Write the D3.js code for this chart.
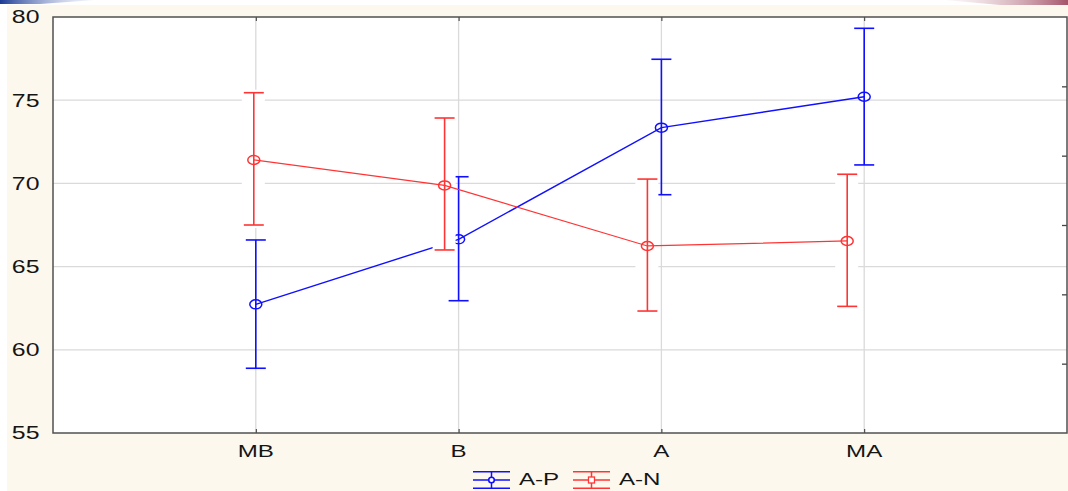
<!DOCTYPE html>
<html>
<head>
<meta charset="utf-8">
<script src="https://d3js.org/d3.v7.min.js"></script>
<style>
  body { margin: 0; background: #fff; }
  svg { display: block; }
  .lbl { font-family: "Liberation Sans", Arial, sans-serif; fill: #151515; }
</style>
</head>
<body>
<div id="chart"></div>
<script>
// categories on the x axis
const categories = ["MB", "B", "A", "MA"];

// A-P series: mean and interval limits
const apMean = [62.73, 66.64, 73.35, 75.21];
const apLow  = [58.89, 62.95, 69.32, 71.11];
const apHigh = [66.60, 70.40, 77.46, 79.32];

// A-N series: mean and interval limits
const anMean = [71.41, 69.88, 66.24, 66.54];
const anLow  = [67.50, 66.00, 62.33, 62.61];
const anHigh = [75.45, 73.93, 70.26, 70.55];

const seriesNames = ["A-P", "A-N"];
const yTicks = [55, 60, 65, 70, 75, 80];

// layout
const W = 1068, H = 491;
const plot = { left: 53, right: 1067, top: 17, bottom: 433 };
const stretch = 1.42;      // the source picture is widened horizontally
const anDodge = [-2, -14, -14, -17];
const blue = "#1010ff", red = "#ff3434";

const svg = d3.select("#chart").append("svg")
  .attr("width", W).attr("height", H);

// backdrop + top banner fragments
const defs = svg.append("defs");
const gb = defs.append("linearGradient").attr("id", "gb");
gb.append("stop").attr("offset", "0%").attr("stop-color", "#1b3a94");
gb.append("stop").attr("offset", "100%").attr("stop-color", "#c9d4ee").attr("stop-opacity", 0.2);
const gr = defs.append("linearGradient").attr("id", "gr");
gr.append("stop").attr("offset", "0%").attr("stop-color", "#f3e6ea").attr("stop-opacity", 0.3);
gr.append("stop").attr("offset", "100%").attr("stop-color", "#a5546a");

svg.append("rect").attr("x", 7).attr("y", 5).attr("width", W - 7).attr("height", H - 5)
  .attr("fill", "#fdf8ee");
svg.append("path").attr("d", "M0,0H95L40,4H0Z").attr("fill", "url(#gb)");
svg.append("path").attr("d", "M945,0H1068V5H1000Z").attr("fill", "url(#gr)");

const x = d3.scalePoint().domain(categories).range([plot.left, plot.right]).padding(1);
const y = d3.scaleLinear().domain([55, 80]).range([plot.bottom, plot.top]);
const yRight = d3.scaleLinear().domain([0, 6]).range([plot.bottom, plot.top]);

svg.append("rect")
  .attr("x", plot.left).attr("y", plot.top)
  .attr("width", plot.right - plot.left).attr("height", plot.bottom - plot.top)
  .attr("fill", "#fff");

// grid
svg.append("g").selectAll("line").data(yTicks.slice(1, -1)).join("line")
  .attr("x1", plot.left).attr("x2", plot.right)
  .attr("y1", d => y(d)).attr("y2", d => y(d))
  .attr("stroke", "#dadada").attr("stroke-width", 1.3);
svg.append("g").selectAll("line").data(categories).join("line")
  .attr("x1", d => x(d)).attr("x2", d => x(d))
  .attr("y1", plot.top).attr("y2", plot.bottom)
  .attr("stroke", "#dadada").attr("stroke-width", 1.3);

function drawSeries(mean, low, high, color, dodge, lw) {
  const px = (i) => x(categories[i]) + dodge[i];
  const g = svg.append("g");
  g.append("path")
    .datum(mean)
    .attr("fill", "none").attr("stroke", color).attr("stroke-width", lw)
    .attr("d", d3.line().x((d, i) => px(i)).y(d => y(d)));
  const bars = g.selectAll("g.bar").data(mean).join("g").attr("class", "bar");
  bars.append("line")
    .attr("x1", (d, i) => px(i)).attr("x2", (d, i) => px(i))
    .attr("y1", (d, i) => y(low[i])).attr("y2", (d, i) => y(high[i]))
    .attr("stroke", color).attr("stroke-width", 1.6);
  [low, high].forEach(arr => {
    bars.append("line")
      .attr("x1", (d, i) => px(i) - 10).attr("x2", (d, i) => px(i) + 10)
      .attr("y1", (d, i) => y(arr[i])).attr("y2", (d, i) => y(arr[i]))
      .attr("stroke", color).attr("stroke-width", 1.6);
  });
  bars.append("ellipse")
    .attr("cx", (d, i) => px(i)).attr("cy", d => y(d))
    .attr("rx", 6).attr("ry", 4.5)
    .attr("fill", "none").attr("stroke", color).attr("stroke-width", 1.5);
}

const apDodge = categories.map(() => 0);
drawSeries(apMean, apLow, apHigh, blue, apDodge, 1.4);

// white clearing behind the A-N bars (covers grid and A-P marks underneath)
svg.append("g").selectAll("rect").data(anMean).join("rect")
  .attr("x", (d, i) => x(categories[i]) + anDodge[i] - 12)
  .attr("width", 23)
  .attr("y", (d, i) => y(anHigh[i]) - 3)
  .attr("height", (d, i) => y(anLow[i]) - y(anHigh[i]) + 6)
  .attr("fill", "#fff");

drawSeries(anMean, anLow, anHigh, red, anDodge, 1.2);

// frame and axis ticks
svg.append("g").attr("transform", `translate(0,${plot.top})`)
  .call(d3.axisBottom(x).tickSize(4).tickFormat(""))
  .call(g => g.select(".domain").remove())
  .selectAll("line").attr("stroke", "#333");
svg.append("g").attr("transform", `translate(0,${plot.bottom})`)
  .call(d3.axisTop(x).tickSize(4).tickFormat(""))
  .call(g => g.select(".domain").remove())
  .selectAll("line").attr("stroke", "#333");
svg.append("g").attr("transform", `translate(${plot.right},0)`)
  .call(d3.axisLeft(yRight).tickValues([1, 2, 3, 4, 5]).tickSize(5).tickFormat(""))
  .call(g => g.select(".domain").remove())
  .selectAll("line").attr("stroke", "#444").attr("stroke-width", 1.3);

svg.append("rect")
  .attr("x", plot.left).attr("y", plot.top)
  .attr("width", plot.right - plot.left).attr("height", plot.bottom - plot.top)
  .attr("fill", "none").attr("stroke", "#505050").attr("stroke-width", 1.5);

// y tick labels
svg.append("g").selectAll("text").data(yTicks).join("text")
  .attr("class", "lbl")
  .attr("transform", d => `translate(39.5,${y(d)}) scale(${stretch},1)`)
  .attr("text-anchor", "end").attr("dy", "0.36em")
  .style("font-size", "17.5px")
  .text(d => d);

// category labels
svg.append("g").selectAll("text").data(categories).join("text")
  .attr("class", "lbl")
  .attr("transform", d => `translate(${x(d)},457) scale(${stretch},1)`)
  .attr("text-anchor", "middle")
  .style("font-size", "17px")
  .text(d => d);

// legend
const legendItems = [
  { name: seriesNames[0], color: blue, cx: 491.5, tx: 519, mark: "circle" },
  { name: seriesNames[1], color: red, cx: 591.5, tx: 619, mark: "square" }
];
const lg = svg.append("g").selectAll("g").data(legendItems).join("g");
[471.7, 480, 488.3].forEach(ly => {
  lg.append("line")
    .attr("x1", d => d.cx - 18.5).attr("x2", d => d.cx + 18.5)
    .attr("y1", ly).attr("y2", ly)
    .attr("stroke", d => d.color).attr("stroke-width", 1.5);
});
lg.append("line")
  .attr("x1", d => d.cx).attr("x2", d => d.cx)
  .attr("y1", 471.7).attr("y2", 488.3)
  .attr("stroke", d => d.color).attr("stroke-width", 1.5);
lg.filter(d => d.mark === "circle").append("circle")
  .attr("cx", d => d.cx).attr("cy", 480).attr("r", 2.8)
  .attr("fill", "#fff").attr("stroke", d => d.color).attr("stroke-width", 1.6);
lg.filter(d => d.mark === "square").append("rect")
  .attr("x", d => d.cx - 3).attr("y", 477).attr("width", 6).attr("height", 6)
  .attr("fill", "#fff").attr("stroke", d => d.color).attr("stroke-width", 1.3);
lg.append("text")
  .attr("class", "lbl")
  .attr("transform", d => `translate(${d.tx},485) scale(${stretch},1)`)
  .style("font-size", "17px")
  .text(d => d.name);
</script>
</body>
</html>
